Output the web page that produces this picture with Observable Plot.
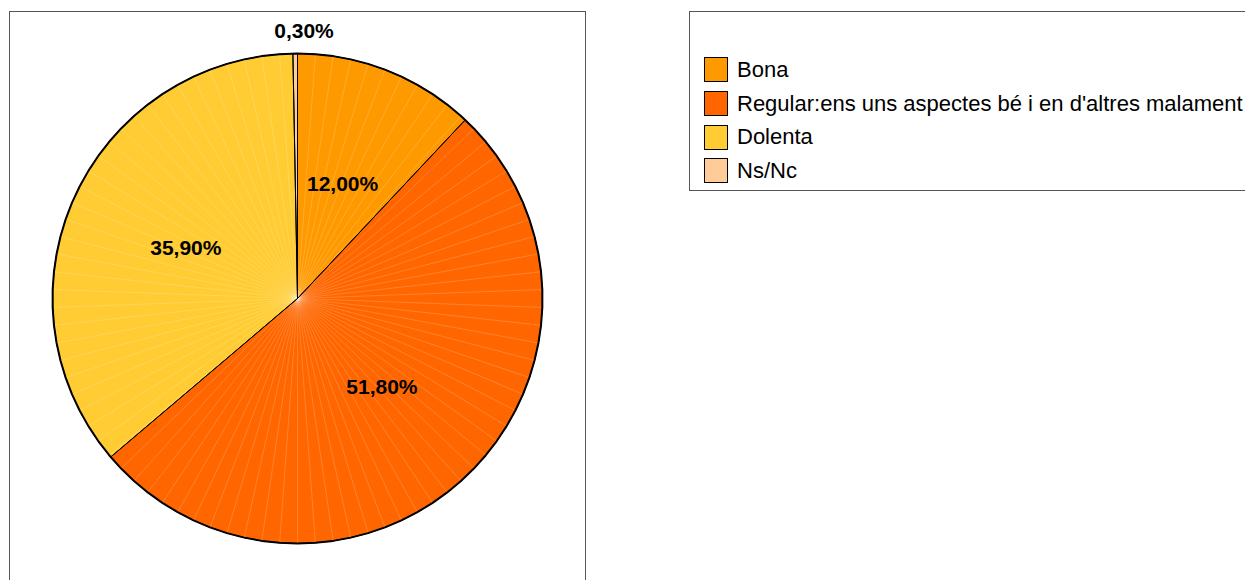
<!DOCTYPE html>
<html><head><meta charset="utf-8">
<script src="https://cdn.jsdelivr.net/npm/d3@7"></script>
<script src="https://cdn.jsdelivr.net/npm/@observablehq/plot@0.6"></script>
<style>
html,body{margin:0;padding:0;background:#fff;}
body{width:1245px;height:580px;overflow:hidden;position:relative;font-family:"Liberation Sans",Arial,sans-serif;}
#box{position:absolute;left:9px;top:11px;width:577px;height:620px;border:1px solid #555;box-sizing:border-box;}
#chart{position:absolute;left:0;top:0;}
#legend{position:absolute;left:689px;top:11px;width:620px;height:180px;border:1px solid #555;box-sizing:border-box;padding-top:41px;}
.row{height:33.7px;display:flex;align-items:center;font-size:22px;color:#000;white-space:nowrap;}
.sw{width:22px;height:23px;border:1px solid #000;margin-left:14px;margin-right:9px;flex:none;}
</style>
</head><body>
<div id="box"></div>
<div id="chart"></div>
<div id="legend"></div>
<script>
const categories = ["Bona", "Regular:ens uns aspectes bé i en d'altres malament", "Dolenta", "Ns/Nc"];
const values = [12.0, 51.8, 35.9, 0.3];
const labels = ["12,00%", "51,80%", "35,90%", "0,30%"];
const colors = ["#ff9900", "#ff6600", "#ffcc33", "#ffcc99"];

const total = d3.sum(values);
const slices = [];
let acc = 0;
categories.forEach((c, i) => {
  const a0 = acc / total * 2 * Math.PI;
  acc += values[i];
  const a1 = acc / total * 2 * Math.PI;
  slices.push({cat: c, a0, a1, value: values[i], label: labels[i]});
});
const pt = (a, r) => ({x: Math.sin(a) * r, y: Math.cos(a) * r});
const facets = 86;
const step = 2 * Math.PI / facets;
const polyRows = [];
for (const s of slices) {
  polyRows.push({cat: s.cat, ...pt(0, 0)});
  const angles = [s.a0];
  for (let k = Math.ceil(s.a0 / step + 1e-9); k * step < s.a1 - 1e-9; k++) angles.push(k * step);
  angles.push(s.a1);
  for (const a of angles) polyRows.push({cat: s.cat, ...pt(a, 1)});
  polyRows.push({cat: s.cat, ...pt(0, 0)});
}
const rimRows = d3.range(0, facets + 1).map(k => pt(k * step, 1));
const spokes = d3.range(0, facets).map(k => ({x1: 0, y1: 0, ...(p => ({x2: p.x, y2: p.y}))(pt(k * step, 1))}));
const inside = slices.filter(s => s.value / total >= 0.02).map(s => ({label: s.label, ...pt((s.a0 + s.a1) / 2, 0.5)}));
const outside = slices.filter(s => s.value / total < 0.02).map(s => ({label: s.label, ...pt((s.a0 + s.a1) / 2, 1.09)}));

const chart = Plot.plot({
  width: 600, height: 580,
  marginLeft: 52, marginRight: 58, marginTop: 53, marginBottom: 37,
  x: {domain: [-1, 1], axis: null},
  y: {domain: [-1, 1], axis: null},
  color: {domain: categories, range: colors},
  style: {background: "transparent", fontFamily: "'Liberation Sans', Arial, sans-serif"},
  marks: [
    Plot.line(polyRows, {x: "x", y: "y", z: "cat", fill: "cat", stroke: "none", curve: "linear"}),
    Plot.link(spokes, {x1: "x1", y1: "y1", x2: "x2", y2: "y2", stroke: "#fff", strokeOpacity: 0.3, strokeWidth: 0.6}),
    Plot.line(polyRows, {x: "x", y: "y", z: "cat", stroke: "#000", strokeWidth: 1, fill: "none", curve: "linear"}),
    Plot.line(rimRows, {x: "x", y: "y", stroke: "#000", strokeWidth: 2, fill: "none", curve: "linear"}),
    Plot.text(inside, {x: "x", y: "y", text: "label", fontSize: 21, fontWeight: "bold", fill: "#000"}),
    Plot.text(outside, {x: "x", y: "y", text: "label", fontSize: 21, fontWeight: "bold", fill: "#000", dx: 9})
  ]
});
document.getElementById("chart").appendChild(chart);

const legend = document.getElementById("legend");
categories.forEach((c, i) => {
  const row = document.createElement("div");
  row.className = "row";
  const sw = document.createElement("div");
  sw.className = "sw";
  sw.style.background = colors[i];
  const t = document.createElement("span");
  t.textContent = c;
  row.appendChild(sw); row.appendChild(t);
  legend.appendChild(row);
});
</script>
</body></html>
